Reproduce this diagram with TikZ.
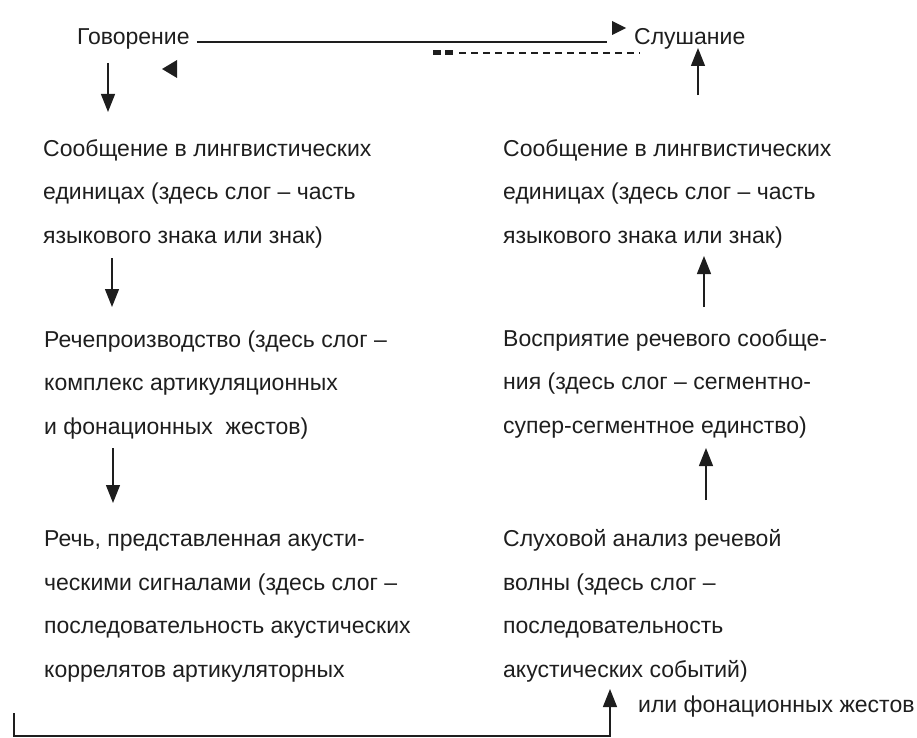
\documentclass[tikz,border=0pt]{standalone}
\usepackage{fontspec}
\setmainfont{Liberation Sans}
\usetikzlibrary{arrows.meta}
\definecolor{ink}{HTML}{1E1E1E}
\tikzset{
  txt/.style={anchor=base west, inner sep=0pt, text=ink, font=\fontsize{23bp}{43.5bp}\selectfont, align=left},
  arr/.style={draw=ink, line width=1.3bp, -{Triangle[length=18bp,width=14bp]}},
  ln/.style={draw=ink, line width=1.6bp},
  tip/.style={fill=ink, draw=none}
}
\begin{document}
\begin{tikzpicture}[x=1bp,y=-1bp]
\useasboundingbox (0,0) rectangle (917,738);
% top
\node[txt] (gov) at (77,45) {Говорение};
\node[txt] (slu) at (634,45) {Слушание};
\coordinate (govend) at (607,42);
\draw[ln] (gov.east |- govend) ++(7,0) coordinate (govstart) -- (govend);
\fill[tip] (612,21) -- (626,28) -- (612,35) -- cycle;
\fill[tip] (177,60) -- (162,69) -- (177,78) -- cycle;
% dashed return line
\coordinate (dsA) at (459,53);
\coordinate (dsB) at (640,53);
\fill[tip] (433,50.5) rectangle (441,55.5);
\fill[tip] (445,50.5) rectangle (453,55.5);
\draw[ink, line width=2.2bp, dash pattern=on 7bp off 5bp] (dsA) -- (dsB);
% left column (anchor = baseline of last line)
\node[txt] (L1) at (43,243) {Сообщение в лингвистических\\единицах (здесь слог – часть\\языкового знака или знак)};
\node[txt] (L2) at (44,434) {Речепроизводство (здесь слог –\\комплекс артикуляционных\\и фонационных\ \ жестов)};
\node[txt] (L3) at (44,677) {Речь, представленная акусти-\\ческими сигналами (здесь слог –\\последовательность акустических\\коррелятов артикуляторных};
% right column
\node[txt] (R1) at (503,243) {Сообщение в лингвистических\\единицах (здесь слог – часть\\языкового знака или знак)};
\node[txt] (R2) at (503,433) {Восприятие речевого сообще-\\ния (здесь слог – сегментно-\\супер-сегментное единство)};
\node[txt] (R3) at (503,677) {Слуховой анализ речевой\\волны (здесь слог –\\последовательность\\акустических событий)};
\node[txt] (ili) at (638,712) {или фонационных жестов};
% arrows left
\coordinate (a0s) at (108,63); \coordinate (a0e) at (108,112);
\draw[arr] (a0s) -- (a0e);
\coordinate (a1s) at (112,258); \coordinate (a1e) at (112,307);
\draw[arr] (a1s) -- (a1e);
\coordinate (a2s) at (113,448); \coordinate (a2e) at (113,503);
\draw[arr] (a2s) -- (a2e);
% arrows right
\coordinate (b0s) at (698,95); \coordinate (b0e) at (698,48);
\draw[arr] (b0s) -- (b0e);
\coordinate (b1s) at (704,307); \coordinate (b1e) at (704,256);
\draw[arr] (b1s) -- (b1e);
\coordinate (b2s) at (706,500); \coordinate (b2e) at (706,448);
\draw[arr] (b2s) -- (b2e);
% bottom loop
\coordinate (fs) at (14,713);
\coordinate (fe) at (610,689);
\draw[arr] (fs) -- (14,736) -- (610,736) -- (fe);
\end{tikzpicture}
\end{document}
